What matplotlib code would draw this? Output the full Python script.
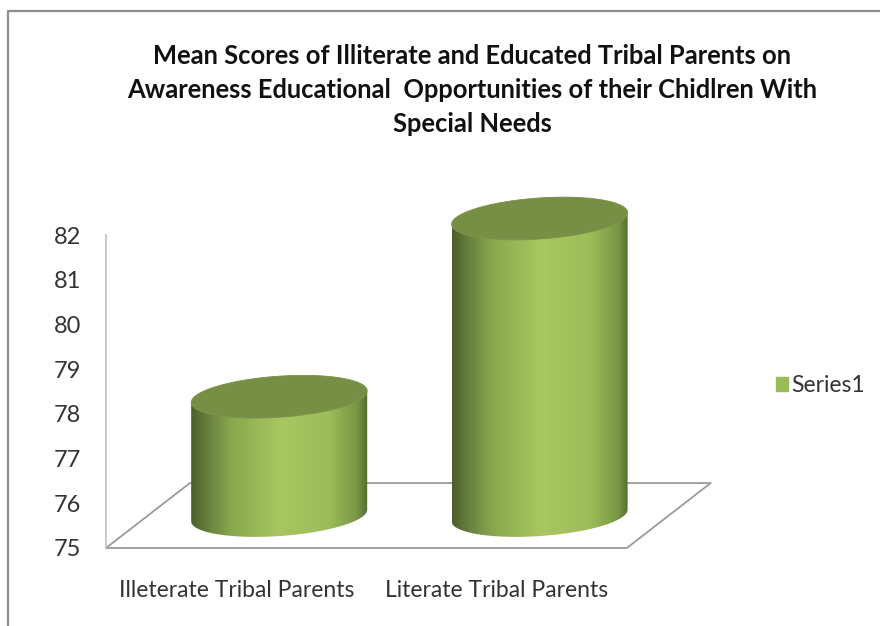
import numpy as np
import matplotlib
matplotlib.use('Agg')
import matplotlib.pyplot as plt
from matplotlib.lines import Line2D
from matplotlib.patches import Patch, PathPatch
from matplotlib.path import Path

categories = ['Illeterate Tribal Parents', 'Literate Tribal Parents']
values = [77.8, 82]
y_ticks = [75, 76, 77, 78, 79, 80, 81, 82]
series_name = 'Series1'
title = ('Mean Scores of Illiterate and Educated Tribal Parents on\n'
         'Awareness Educational  Opportunities of their Chidlren With\n'
         'Special Needs')

plt.rcParams['font.family'] = ['Lato', 'DejaVu Sans']

W, H = 880, 626
fig = plt.figure(figsize=(W / 100, H / 100), dpi=100)
# y axis sits at x=106, 75 at y=548, one unit is about 44.7px
ax = fig.add_axes([106 / W, (H - 548) / H, 625 / W, 402 / H])
ax.set_xlim(-0.5, 1.9)
ax.set_ylim(75, 84)
ax.patch.set_alpha(0)

# fake 3d: floor depth and cylinder shape, in data units
depth_x, depth_y = 0.322, 1.454
rad_x, rad_y, tilt = 0.338, 0.46, 0.13
shrink = 0.95

stops = [0, 0.06, 0.22, 0.5, 0.78, 0.94, 1]
reds = [0.29, 0.37, 0.53, 0.66, 0.61, 0.47, 0.33]
greens = [0.37, 0.46, 0.65, 0.78, 0.74, 0.59, 0.42]
blues = [0.16, 0.22, 0.30, 0.38, 0.35, 0.27, 0.18]
u = np.linspace(0, 1, 256)
grad = np.dstack([np.interp(u, stops, c) for c in (reds, greens, blues)]).reshape(1, 256, 3)


def draw_cylinder(x, value):
    cx = x + depth_x / 2 + 0.004
    base = 75 + depth_y / 2
    top = base + (value - 75) * shrink
    t = np.linspace(0, 2 * np.pi, 200)
    ex = rad_x * np.cos(t)
    ey = tilt * np.cos(t) + rad_y * np.sin(t)
    # lower half of the ellipse at the base, then back along the top one
    lower = t[t <= np.pi] + np.pi
    bx = cx + rad_x * np.cos(lower)
    by = base + tilt * np.cos(lower) + rad_y * np.sin(lower)
    ux = cx + rad_x * np.cos(lower[::-1])
    uy = top + tilt * np.cos(lower[::-1]) + rad_y * np.sin(lower[::-1])
    body = Path(np.column_stack([np.r_[bx, ux], np.r_[by, uy]]))
    im = ax.imshow(grad, extent=[cx - rad_x, cx + rad_x, base - 2, top + 2],
                   aspect='auto', zorder=3, interpolation='bilinear')
    im.set_clip_path(PathPatch(body, transform=ax.transData))
    ax.fill(cx + ex, top + ey, color='#778f45', lw=0.6, zorder=4)


# floor
fl_left, fl_right = -0.5, 1.5
ax.plot([fl_left, fl_left + depth_x, fl_right + depth_x, fl_right, fl_left],
        [75, 75 + depth_y, 75 + depth_y, 75, 75],
        color='#9a9a9a', lw=1.3, zorder=2, clip_on=False)

for i, v in enumerate(values):
    draw_cylinder(i, v)
ax.set_xlim(-0.5, 1.9)
ax.set_ylim(75, 84)

for side in ('top', 'right', 'bottom'):
    ax.spines[side].set_visible(False)
ax.spines['left'].set_bounds(75, 82)
ax.spines['left'].set_color('#c4c4c4')
ax.spines['left'].set_linewidth(1.3)

ax.set_yticks(y_ticks)
ax.set_xticks(range(len(categories)))
ax.set_xticklabels(categories)
ax.tick_params(axis='y', length=0, pad=18, labelsize=17, labelcolor='#333333')
ax.tick_params(axis='x', length=0, pad=23, labelsize=16.5, labelcolor='#333333')

fig.text(472 / W, 1 - 90 / H, title, ha='center', va='center', fontsize=18.4,
         fontweight='bold', color='#111111', linespacing=1.52)

fig.legend(handles=[Patch(color='#9bbb59', label=series_name)], loc='center left',
           bbox_to_anchor=(755 / W, 1 - 386 / H), frameon=False, fontsize=16.5,
           handlelength=0.55, handleheight=0.55, handletextpad=0.15, labelcolor='#333333')

# outer border of the picture
fig.add_artist(Line2D([8 / W, 8 / W, 1], [0, 1 - 11 / H, 1 - 11 / H], color='#8c8c8c', lw=1.6))

fig.savefig('out.png', dpi=100)
